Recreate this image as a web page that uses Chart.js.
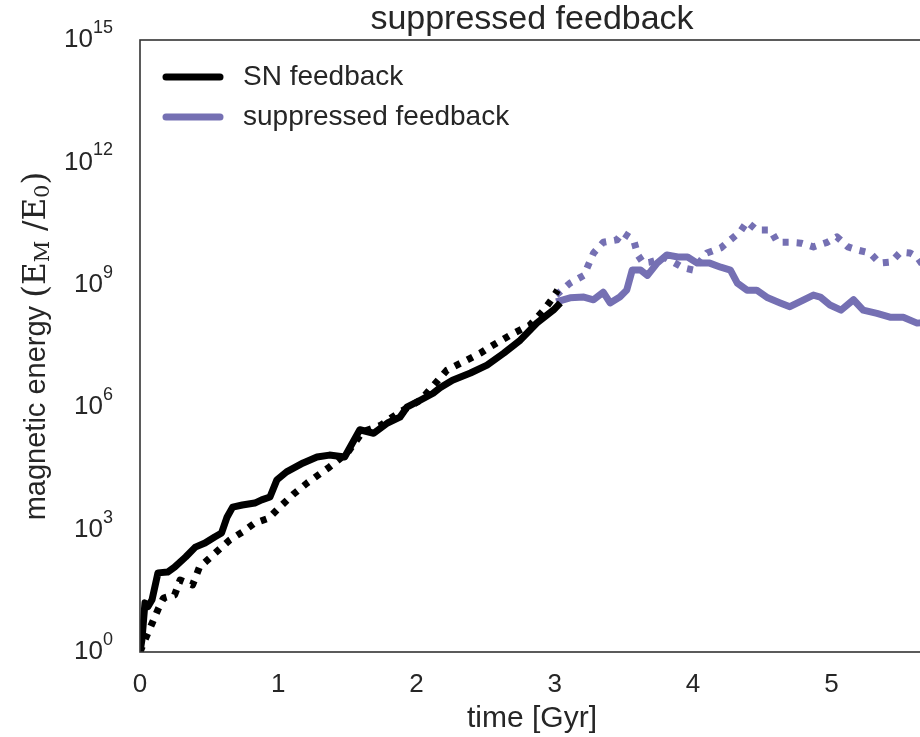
<!DOCTYPE html>
<html>
<head>
<meta charset="utf-8">
<script src="https://cdn.jsdelivr.net/npm/chart.js@4.4.1/dist/chart.umd.min.js"></script>
<style>
  html, body { margin: 0; padding: 0; background: #fff; overflow: hidden; }
  #wrap { width: 930px; height: 737px; position: relative; }
</style>
</head>
<body>
<div id="wrap"><canvas id="c"></canvas></div>
<script>
// time [Gyr] and magnetic energy
const snTime = [0, 0.014, 0.036, 0.058, 0.087, 0.13, 0.2, 0.25, 0.33, 0.40, 0.47, 0.54, 0.59, 0.63, 0.67, 0.74, 0.83, 0.88, 0.94, 0.99, 1.06, 1.18, 1.28, 1.37, 1.48, 1.59, 1.69, 1.79, 1.88, 1.93, 2.03, 2.12, 2.17, 2.26, 2.39, 2.51, 2.63, 2.75, 2.87, 2.99, 3.04];
const snSolid = [1, 2, 16, 13, 19, 87, 91, 120, 213, 372, 468, 661, 830, 2040, 3550, 4000, 4470, 5360, 6300, 1.65e4, 2.6e4, 4.3e4, 6e4, 6.7e4, 6e4, 2.8e5, 2.3e5, 4.1e5, 5.7e5, 1e6, 1.5e6, 2.2e6, 3e6, 4.6e6, 6.9e6, 1.08e7, 2.1e7, 4.4e7, 1.16e8, 2.4e8, 3.6e8];

const snDashTime = [0, 0.036, 0.087, 0.13, 0.17, 0.25, 0.29, 0.38, 0.43, 0.65, 0.74, 0.83, 0.93, 1.01, 1.11, 1.21, 1.37, 1.50, 1.61, 1.74, 1.88, 2.03, 2.22, 2.34, 2.46, 2.53, 2.68, 2.82, 2.92, 2.99, 3.02];
const snDashed = [1, 2, 5, 11, 21, 25, 58, 44, 120, 560, 870, 1450, 1900, 3550, 7400, 1.4e4, 3.4e4, 7.6e4, 2.5e5, 3.6e5, 7.6e5, 1.5e6, 8.1e6, 1.3e7, 2.1e7, 3e7, 5.9e7, 1.03e8, 2.4e8, 5e8, 7.4e8];

const supTime = [3.01, 3.11, 3.21, 3.28, 3.35, 3.40, 3.47, 3.52, 3.56, 3.62, 3.67, 3.74, 3.81, 3.89, 3.96, 4.03, 4.12, 4.20, 4.27, 4.32, 4.39, 4.46, 4.54, 4.63, 4.70, 4.80, 4.87, 4.92, 4.99, 5.07, 5.16, 5.23, 5.33, 5.43, 5.52, 5.62, 5.68];
const supSolid = [3.8e8, 4.8e8, 5e8, 4.3e8, 6.6e8, 3.6e8, 5e8, 7.4e8, 2.3e9, 2.3e9, 1.7e9, 3.4e9, 5.4e9, 4.8e9, 4.8e9, 3.4e9, 3.4e9, 2.7e9, 2.3e9, 1.1e9, 7.4e8, 7.4e8, 4.8e8, 3.6e8, 2.9e8, 4.3e8, 5.6e8, 5e8, 3.2e8, 2.4e8, 4.3e8, 2.4e8, 2e8, 1.6e8, 1.6e8, 1.15e8, 1.2e8];

const supDashTime = [3.01, 3.11, 3.21, 3.28, 3.35, 3.45, 3.49, 3.57, 3.60, 3.64, 3.69, 3.80, 3.93, 4.00, 4.10, 4.20, 4.27, 4.34, 4.39, 4.46, 4.56, 4.61, 4.70, 4.78, 4.87, 4.97, 5.04, 5.12, 5.19, 5.28, 5.35, 5.43, 5.50, 5.57, 5.62, 5.66];
const supDashed = [5.6e8, 1.1e9, 1.7e9, 6e9, 1.1e10, 1.26e10, 1.9e10, 1.26e10, 5.4e9, 3.4e9, 3.6e9, 4.6e9, 2.6e9, 2.3e9, 6e9, 8e9, 1.26e10, 2e10, 3.5e10, 2.2e10, 2.2e10, 1.1e10, 1.1e10, 1.05e10, 8.5e9, 1.1e10, 1.5e10, 8.5e9, 7.1e9, 6e9, 3.4e9, 3.6e9, 6.3e9, 6e9, 4.8e9, 3.1e9];

const xTicks = [0, 1, 2, 3, 4, 5];
const yTickExps = [0, 3, 6, 9, 12, 15];

const BLACK = '#000000';
const PURPLE = '#7570b3';
const TEXT = '#262626';
const SANS = '"Liberation Sans", Arial, sans-serif';
const SERIF = '"DejaVu Serif", "Liberation Serif", serif';

function pts(xs, ys) {
  return xs.map((x, i) => ({ x: x, y: ys[i] }));
}

function line(label, xs, ys, color, dashed, inLegend) {
  return {
    label: label,
    data: pts(xs, ys),
    borderColor: color,
    backgroundColor: color,
    borderWidth: 7,
    borderDash: dashed ? [6, 8] : [],
    borderCapStyle: 'butt',
    borderJoinStyle: 'round',
    pointRadius: 0,
    tension: 0,
    fill: false,
    inLegend: inLegend
  };
}

// draws frame, ticks with superscripts, titles and the legend
const decor = {
  id: 'decor',
  afterDatasetsDraw(chart) {
    const ctx = chart.ctx;
    const a = chart.chartArea;
    const xs = chart.scales.x, ys = chart.scales.y;
    ctx.save();

    ctx.strokeStyle = '#333333';
    ctx.lineWidth = 1.6;
    ctx.strokeRect(a.left, a.top, a.right - a.left, a.bottom - a.top);

    ctx.fillStyle = TEXT;
    ctx.textBaseline = 'middle';

    // x tick labels
    ctx.font = '26px ' + SANS;
    ctx.textAlign = 'center';
    xTicks.forEach(v => ctx.fillText(String(v), xs.getPixelForValue(v), a.bottom + 33));

    // y tick labels 10^n
    yTickExps.forEach(n => {
      const py = ys.getPixelForValue(Math.pow(10, n));
      ctx.font = '18px ' + SANS;
      const sup = String(n);
      const supW = ctx.measureText(sup).width;
      const right = a.left - 27;
      ctx.textAlign = 'right';
      ctx.fillText(sup, right, py - 12);
      ctx.font = '26px ' + SANS;
      ctx.fillText('10', right - supW, py);
    });

    // title and x axis title
    const cx = (a.left + a.right) / 2;
    ctx.textAlign = 'center';
    ctx.font = '34px ' + SANS;
    ctx.fillText('suppressed feedback', cx, 20);
    ctx.font = '30px ' + SANS;
    ctx.fillText('time [Gyr]', cx, a.bottom + 67);

    // y axis title with math part
    const parts = [
      { t: 'magnetic energy ', f: '29px ' + SANS, dy: 0 },
      { t: '(', f: '33px ' + SERIF, dy: 0 },
      { t: 'E', f: '31px ' + SERIF, dy: 0 },
      { t: 'M', f: '21px ' + SERIF, dy: 7 },
      { t: ' /', f: '31px ' + SERIF, dy: 0 },
      { t: 'E', f: '31px ' + SERIF, dy: 0 },
      { t: '0', f: '21px ' + SERIF, dy: 7 },
      { t: ')', f: '33px ' + SERIF, dy: 0 }
    ];
    let total = 0;
    parts.forEach(p => { ctx.font = p.f; p.w = ctx.measureText(p.t).width; total += p.w; });
    ctx.translate(37, (a.top + a.bottom) / 2);
    ctx.rotate(-Math.PI / 2);
    ctx.textAlign = 'left';
    let px = -total / 2;
    parts.forEach(p => { ctx.font = p.f; ctx.fillText(p.t, px, p.dy); px += p.w; });
    ctx.setTransform(1, 0, 0, 1, 0, 0);

    // legend
    let ly = 77;
    chart.data.datasets.filter(d => d.inLegend).forEach(d => {
      ctx.strokeStyle = d.borderColor;
      ctx.lineWidth = 7;
      ctx.lineCap = 'round';
      ctx.beginPath();
      ctx.moveTo(a.left + 26, ly);
      ctx.lineTo(a.left + 80, ly);
      ctx.stroke();
      ctx.fillStyle = TEXT;
      ctx.font = '28px ' + SANS;
      ctx.textAlign = 'left';
      ctx.fillText(d.label, a.left + 103, ly);
      ly += 40;
    });
    ctx.restore();
  }
};

new Chart(document.getElementById('c'), {
  type: 'line',
  data: {
    datasets: [
      line('SN feedback', snTime, snSolid, BLACK, false, true),
      line('suppressed feedback', supTime, supSolid, PURPLE, false, true),
      line('SN feedback (dashed)', snDashTime, snDashed, BLACK, true, false),
      line('suppressed feedback (dashed)', supDashTime, supDashed, PURPLE, true, false)
    ]
  },
  options: {
    responsive: true,
    maintainAspectRatio: false,
    animation: false,
    events: [],
    layout: { padding: { left: 140, top: 40, right: 6, bottom: 85 } },
    plugins: { legend: { display: false }, title: { display: false }, tooltip: { enabled: false } },
    scales: {
      x: {
        type: 'linear', min: 0, max: 5.67,
        grid: { display: false, drawTicks: false },
        border: { display: false },
        ticks: { display: false }
      },
      y: {
        type: 'logarithmic', min: 1, max: 1e15,
        grid: { display: false, drawTicks: false },
        border: { display: false },
        ticks: { display: false }
      }
    }
  },
  plugins: [decor]
});
</script>
</body>
</html>
